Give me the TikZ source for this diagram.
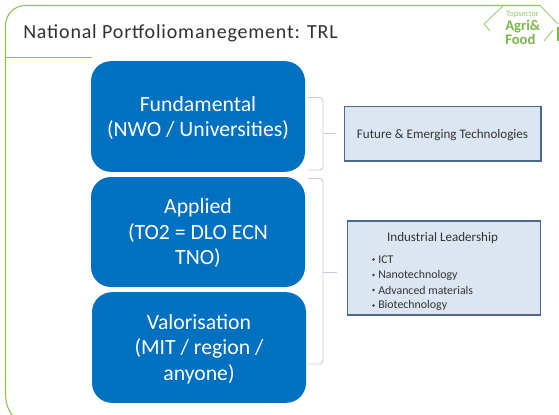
\documentclass[tikz,border=0pt]{standalone}
\usepackage{fontspec}
\setmainfont{Carlito}
\definecolor{framegreen}{HTML}{8CC152}
\definecolor{logogreen}{HTML}{7AB648}
\definecolor{boxblue}{HTML}{0070C0}
\definecolor{lightbox}{HTML}{DCE6F2}
\definecolor{boxedge}{HTML}{4A6A94}
\definecolor{bracecol}{HTML}{C3CEDD}
\definecolor{titlecol}{HTML}{303030}
\tikzset{
 stage/.style={fill=boxblue,draw=none,rounded corners=15pt,inner sep=0pt,minimum width=160.5pt},
 stagetext/.style={text=white,align=center,font=\fontsize{16.3}{19}\selectfont,inner sep=0pt},
 infobox/.style={fill=lightbox,draw=boxedge,line width=1pt,inner sep=0pt},
 infotext/.style={inner sep=0pt,text=black!80,font=\fontsize{9.8}{11}\selectfont},
 bracket/.style={draw=bracecol,line width=0.7pt,rounded corners=2.5pt},
 frameline/.style={draw=framegreen,line width=0.8pt}
}
\begin{document}
\begin{tikzpicture}[x=0.75pt,y=-0.75pt]
\useasboundingbox (0,0) rectangle (559,414);
% frame
\draw[frameline] (540,5.5) -- (26,5.5) .. controls (14,5.5) and (5.5,14) .. (5.5,26) -- (5.5,392) .. controls (5.5,403) and (8,410) .. (13,416);
\draw[frameline] (5.5,57.5) -- (92,57.5);
\draw[draw=logogreen,line width=1pt] (558,27) -- (558,41);
% logo
\draw[draw=logogreen!70,line width=0.7pt] (503,6) -- (484,24) -- (490,31);
\draw[draw=logogreen!70,line width=0.7pt] (540,5.5) -- (558,24);
\draw[draw=logogreen!70,line width=0.7pt] (553,30) -- (544,41);
\node[text=logogreen!80,font=\fontsize{6.2}{7}\selectfont,inner sep=0pt] (logotop) at (522.5,15) {Topsector};
\node[text=logogreen,font=\fontsize{11}{8.8}\selectfont\bfseries,inner sep=0pt,align=left,anchor=north west] (logoname) at (505,20) {Agri\&\\Food};
% title
\node[anchor=base west,inner sep=0pt,text=titlecol,font=\fontsize{15}{17}\selectfont\addfontfeature{LetterSpace=4.1}] (title) at (23,38) {National Portfoliomanegement: TRL};
% stages
\node[stage,minimum height=83pt] (fund) at (198,116.5) {};
\node[stagetext] (fundt) at (198,118) {Fundamental\\(NWO / Universities)};
\node[stage,minimum height=82.5pt] (appl) at (198,232) {};
\node[stagetext] (applt) at (198,233) {Applied\\(TO2 = DLO ECN\\TNO)};
\node[stage,minimum height=83pt] (valo) at (199,347.5) {};
\node[stagetext] (valot) at (199,349) {Valorisation\\(MIT / region /\\anyone)};
% info boxes
\node[infobox,minimum width=147.5pt,minimum height=41pt] (fet) at (442.5,133.5) {};
\node[infotext] (fett) at (442.5,135) {Future \& Emerging Technologies};
\node[infobox,minimum width=145pt,minimum height=70.5pt] (ind) at (444,268) {};
\node[infotext] (indt) at (442.5,238) {Industrial Leadership};
\foreach \n/\y/\t in {a/259.5/ICT,b/275/Nanotechnology,c/290/Advanced materials,d/305.5/Biotechnology}{
  \node[anchor=west,inner sep=0pt,text=black!80,font=\fontsize{8.9}{10}\selectfont] (it\n) at (378,\y) {\t};
  \fill[black!75] (373.5,\y) circle (1.3);
}
% braces
\coordinate (b1t) at (308,97.5);
\coordinate (b1b) at (308,170);
\coordinate (b1m) at (323,133.5);
\coordinate (b1tip) at (336,133.5);
\draw[bracket] (b1t) -- (323,97.5) -- (b1m) -- (323,170) -- (b1b);
\draw[bracket] (b1m) -- (b1tip);
\coordinate (b2t) at (308,178.5);
\coordinate (b2b) at (308,364);
\coordinate (b2m) at (323,272);
\coordinate (b2tip) at (337,272);
\draw[bracket] (b2t) -- (323,178.5) -- (b2m) -- (323,364) -- (b2b);
\draw[bracket] (b2m) -- (b2tip);
\end{tikzpicture}
\end{document}
